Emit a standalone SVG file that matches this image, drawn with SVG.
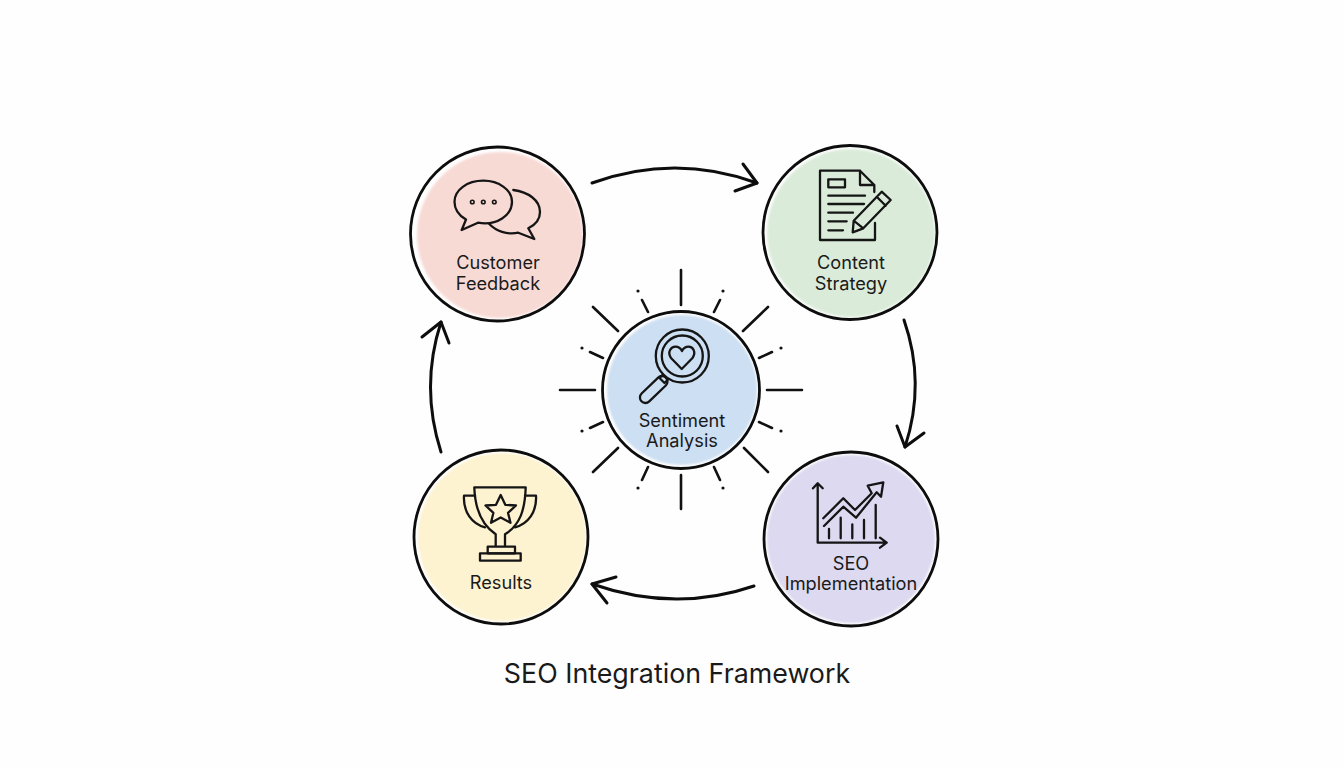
<svg xmlns="http://www.w3.org/2000/svg" width="1344" height="768" viewBox="0 0 1344 768">
<defs><filter id="soft" x="-5%" y="-5%" width="110%" height="110%"><feGaussianBlur stdDeviation="1.2"/></filter></defs>
<style>
.ring{fill:none;stroke:#0d0d0d;stroke-width:2.8}
.ic{fill:none;stroke:#151515;stroke-width:2.3;stroke-linecap:round;stroke-linejoin:round}
.con{fill:none;stroke:#0d0d0d;stroke-width:3;stroke-linecap:round;stroke-linejoin:round}
.ray{fill:none;stroke:#111;stroke-width:2.6;stroke-linecap:round}
.dot{fill:#111}
.fl{filter:url(#soft)}
text{font-family:Inter,"Liberation Sans",sans-serif;fill:#1a1a1a;text-anchor:middle}
.lb{font-size:18.2px}
.ti{font-size:26.8px}
</style>
<rect width="1344" height="768" fill="#fefefe"/>
<g id="connectors">
<path class="con" d="M592,183 Q675,153 757,183"/>
<path class="con" d="M743,164 L757,183 L735,191"/>
<path class="con" d="M904,320 Q926,383 905,447"/>
<path class="con" d="M897,426 L905,447 L924,433"/>
<path class="con" d="M754,586 Q675,613 592,584"/>
<path class="con" d="M616,577 L592,584 L607,603"/>
<path class="con" d="M441,452 Q420,387 441,322"/>
<path class="con" d="M422,337 L441,322 L449,343"/>
</g>
<g id="rays">
<path class="ray" d="M681,270V305M681,475V509M560,390H595M767,390H802M593,307L618,331M768,307L743,331M593,472L618,448M768,472L744,448M642,300L648,312M720,300L714,312M590,352L603,358M772,352L759,358M590,428L603,422M772,428L759,422M642,480L648,467M720,480L714,467"/>
<circle class="dot" cx="638" cy="291" r="1.6"/><circle class="dot" cx="723" cy="291" r="1.6"/><circle class="dot" cx="582" cy="348" r="1.6"/><circle class="dot" cx="781" cy="348" r="1.6"/><circle class="dot" cx="582" cy="431" r="1.6"/><circle class="dot" cx="781" cy="431" r="1.6"/><circle class="dot" cx="638" cy="488" r="1.6"/><circle class="dot" cx="723" cy="488" r="1.6"/>
</g>
<g id="node-customer-feedback">
<circle class="fl" cx="500" cy="235" r="83" fill="#f8dad5"/>
<circle class="ring" cx="497.5" cy="234" r="87"/>
<path class="ic" d="M478,222.7 C497,226 512,215 512,201.7 C512,190 499,180.7 483.3,180.7 C467,180.7 454.5,190 454.5,201.7 C454.5,209 459,215.5 466,219.5 L461.7,230 Z"/>
<path class="ic" d="M513.3,190 C528,192 540,200 540,212 C540,219 535,225 528.3,228.3 L534.3,239 L518.3,232.7 C507,235 496,231 489.3,224"/>
<circle class="ic" style="stroke-width:1.6" cx="472.3" cy="202" r="1.8"/><circle class="ic" style="stroke-width:1.6" cx="483.3" cy="202" r="1.8"/><circle class="ic" style="stroke-width:1.6" cx="494.3" cy="202" r="1.8"/>
<text class="lb" x="498" y="269">Customer</text>
<text class="lb" x="498" y="290">Feedback</text>
</g>
<g id="node-content-strategy">
<circle class="fl" cx="851" cy="233" r="84" fill="#daecd9"/>
<circle class="ring" cx="850" cy="232.5" r="87"/>
<path class="ic" d="M874.3,192V185L860,170.7H820V240H875V223M860,170.7V185H874.3"/>
<rect class="ic" x="828.3" y="179.3" width="16.7" height="8"/>
<path class="ic" d="M828.3,195.7H865M828.3,204H864M828.3,212.7H853M828.3,221.3H846.7M828.3,230.3H843"/>
<path class="ic" d="M853.7,220.7L881.7,191.7L890.7,200L863.3,228.3L852.7,232.3ZM853.7,220.7L863.3,228.3M876.7,196.7L885.7,205.7"/>
<text class="lb" x="851" y="269">Content</text>
<text class="lb" x="851" y="290">Strategy</text>
</g>
<g id="node-seo-implementation">
<circle class="fl" cx="851" cy="539" r="84" fill="#ddd9f0"/>
<circle class="ring" cx="851" cy="539" r="87"/>
<path class="ic" d="M817.7,483.3V542.7H886.7M813,488.3L817.7,483.3L822.7,488.3M880,537.7L886.7,542.7L880,547.7"/>
<path class="ic" d="M829,529V538.3M840.7,517.7V538.3M852.3,524.3V538.3M864,520V538.3M875.7,505V538.3"/>
<path class="ic" d="M823.3,518.3L843.3,498.3L855,510L871.7,493.3L867.7,485.7L883.3,482.3L881,496.7L876.7,492.3L856,517.7L843.3,506.7L824,526"/>
<text class="lb" x="851" y="570">SEO</text>
<text class="lb" x="851" y="590">Implementation</text>
</g>
<g id="node-results">
<circle class="fl" cx="502" cy="537" r="84" fill="#fdf3d0"/>
<circle class="ring" cx="501" cy="537" r="87"/>
<path class="ic" d="M474.3,487.3H525.7C525,510 520,525 505,534.3V545.7M474.3,487.3C475,510 482,525 495.7,534.3V545.7"/>
<path class="ic" d="M475,495.7H464C463,512 472,524 485,527.3M525,495.7H536C537,512 528,524 515,527.3"/>
<rect class="ic" x="487.7" y="546.7" width="27.3" height="6.6"/>
<rect class="ic" x="480" y="553.3" width="40.7" height="7.4"/>
<path class="ic" d="M500.7,495L505.3,504.8L516,505.5L508,512.8L510.5,522.8L500.7,517.5L491,522.8L493.4,512.8L485.5,505.5L496,504.8Z"/>
<text class="lb" x="501" y="589">Results</text>
</g>
<g id="node-sentiment-analysis">
<circle class="fl" cx="682" cy="390" r="75" fill="#cddff2"/>
<circle class="ring" cx="681" cy="390" r="78.5"/>
<circle class="ic" cx="682.3" cy="356" r="26.5"/>
<circle class="ic" cx="682.3" cy="356" r="20.5"/>
<path class="ic" d="M681.7,369L671,358C667,352 671,346.7 675.5,346.7C678.5,346.7 680.7,348.5 682,351C683.3,348.5 685.5,346.7 688.5,346.7C693,346.7 696.5,352 692.5,358Z"/>
<path class="ic" d="M663,374.5L668,379.5L664.5,383L659.5,378Z"/>
<rect class="ic" x="-17" y="-5.5" width="34" height="11" rx="5.5" transform="translate(653.7 389.5) rotate(-44)"/>
<text class="lb" x="682" y="427">Sentiment</text>
<text class="lb" x="682" y="447">Analysis</text>
</g>
<text id="title" class="ti" x="677" y="683">SEO Integration Framework</text>
</svg>
